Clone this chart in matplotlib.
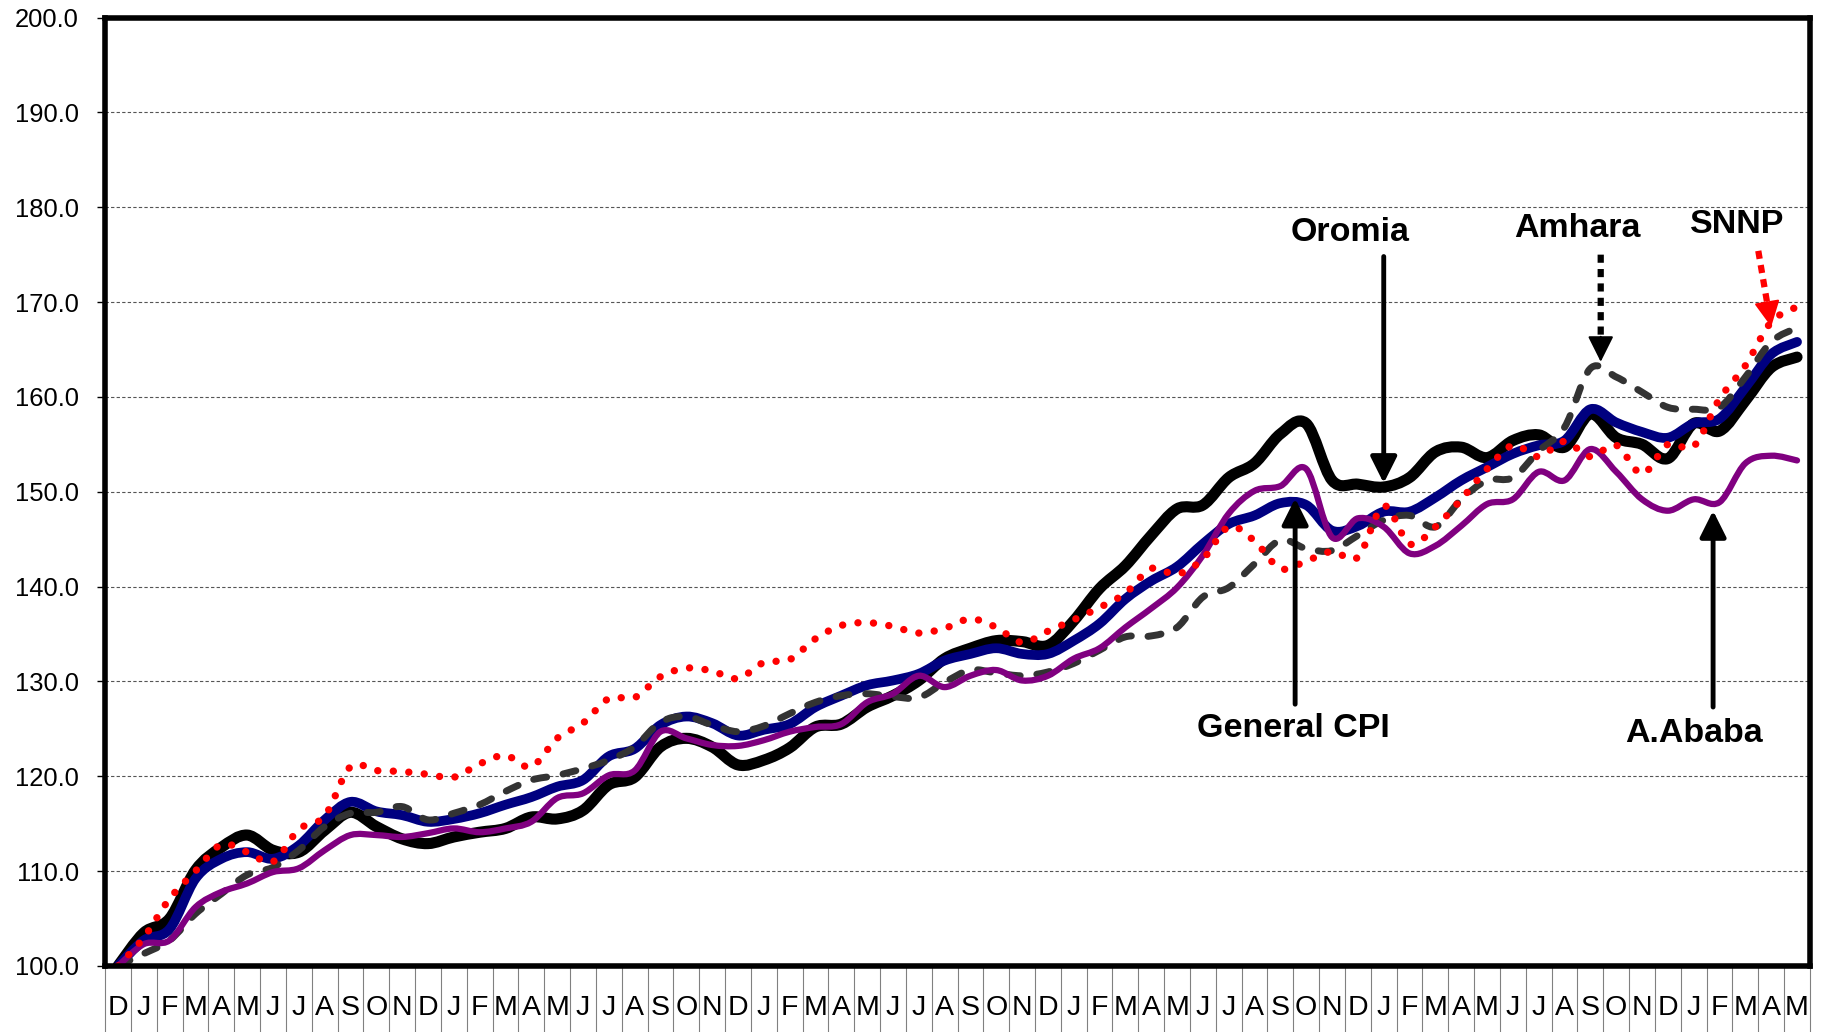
import numpy as np
import matplotlib
matplotlib.use("Agg")
import matplotlib.pyplot as plt
from matplotlib.path import Path
from matplotlib.patches import PathPatch

plt.rcParams['font.family'] = ['Liberation Sans', 'DejaVu Sans']

# month labels, Dec of base year to May five and a half years later
months = ["D"] + ["J", "F", "M", "A", "M", "J", "J", "A", "S", "O", "N", "D"] * 5 + ["J", "F", "M", "A", "M"]

oromia = [100.0, 103.5, 105.0, 110.1, 112.5, 113.8, 112.2, 112.0, 114.3, 116.2, 114.7, 113.4, 112.9,
          113.6, 114.1, 114.5, 115.7, 115.5, 116.4, 119.1, 119.9, 123.1, 124.0, 123.1, 121.2, 121.7,
          123.0, 125.2, 125.5, 127.3, 128.5, 130.1, 132.4, 133.5, 134.3, 134.2, 133.8, 136.4, 139.8,
          142.2, 145.4, 148.2, 148.6, 151.5, 153.0, 156.1, 157.2, 151.2, 150.8, 150.5, 151.5, 154.2,
          154.7, 153.6, 155.4, 156.0, 154.7, 158.2, 155.7, 155.0, 153.5, 157.2, 156.4, 159.6, 163.1, 164.2]

general_cpi = [100.0, 102.7, 103.9, 109.2, 111.3, 112.0, 111.3, 112.7, 115.4, 117.3, 116.3, 115.9, 115.2,
               115.5, 116.1, 117.0, 117.8, 118.9, 119.6, 122.1, 122.9, 125.4, 126.3, 125.6, 124.3, 124.9,
               125.5, 127.3, 128.5, 129.6, 130.1, 130.8, 132.2, 132.9, 133.5, 132.9, 132.9, 134.3, 136.1,
               138.7, 140.6, 142.1, 144.5, 146.6, 147.5, 148.8, 148.6, 145.9, 146.4, 147.9, 147.9, 149.4,
               151.2, 152.6, 154.0, 154.9, 155.4, 158.7, 157.3, 156.3, 155.7, 157.2, 157.7, 161.0, 164.5, 165.8]

amhara = [100.0, 101.3, 102.7, 105.5, 107.6, 109.6, 110.4, 112.2, 114.7, 116.1, 116.2, 116.8, 115.4,
          116.1, 117.0, 118.4, 119.6, 120.1, 120.8, 121.7, 123.1, 125.7, 126.3, 125.4, 124.7, 125.3,
          126.6, 127.8, 128.5, 128.7, 128.4, 128.3, 129.9, 131.2, 130.9, 130.6, 131.0, 131.9, 133.3,
          134.7, 134.8, 135.7, 138.9, 139.9, 142.4, 144.9, 144.0, 143.8, 145.4, 147.0, 147.5, 146.3,
          149.2, 151.2, 151.5, 154.3, 156.8, 163.0, 162.1, 160.5, 158.9, 158.7, 158.9, 162.1, 165.8, 167.3]

snnp = [100.0, 103.0, 107.1, 110.0, 112.8, 112.0, 111.0, 114.4, 115.8, 121.0, 120.6, 120.5, 120.2,
        119.9, 121.3, 122.2, 121.0, 124.0, 125.6, 128.2, 128.3, 130.5, 131.4, 131.1, 130.3, 132.0,
        132.3, 134.5, 135.9, 136.2, 135.8, 135.1, 135.6, 136.6, 135.7, 134.1, 135.3, 136.5, 137.8,
        139.3, 141.9, 141.3, 142.9, 146.3, 144.8, 141.9, 142.7, 143.7, 143.1, 148.5, 144.5, 146.3,
        149.2, 152.4, 154.9, 153.7, 155.3, 153.7, 154.9, 151.9, 155.0, 154.8, 159.8, 163.3, 167.9, 169.5]

a_ababa = [100.0, 102.3, 102.7, 106.2, 107.8, 108.7, 109.9, 110.3, 112.2, 113.8, 113.8, 113.6, 114.0,
           114.5, 114.1, 114.5, 115.2, 117.7, 118.2, 120.1, 120.6, 124.7, 124.0, 123.3, 123.2, 123.8,
           124.7, 125.2, 125.5, 127.8, 128.7, 130.6, 129.4, 130.6, 131.2, 130.1, 130.6, 132.4, 133.5,
           135.7, 137.7, 139.9, 143.3, 147.7, 150.1, 150.6, 152.4, 145.2, 147.2, 146.3, 143.5, 144.3,
           146.4, 148.7, 149.2, 152.1, 151.2, 154.5, 152.1, 149.2, 148.0, 149.2, 148.9, 153.0, 153.8, 153.3]


def smooth_path(ys):
    # smoothed line like excel: one bezier segment between each pair of points
    xs = np.arange(len(ys))
    n = len(ys)
    verts = [(xs[0], ys[0])]
    codes = [Path.MOVETO]
    for i in range(n - 1):
        a = max(i - 1, 0)
        d = min(i + 2, n - 1)
        c1 = (xs[i] + (xs[i + 1] - xs[a]) / 6, ys[i] + (ys[i + 1] - ys[a]) / 6)
        c2 = (xs[i + 1] - (xs[d] - xs[i]) / 6, ys[i + 1] - (ys[d] - ys[i]) / 6)
        verts += [c1, c2, (xs[i + 1], ys[i + 1])]
        codes += [Path.CURVE4] * 3
    return Path(verts, codes)


fig = plt.figure(figsize=(18.24, 10.32), dpi=100)
ax = fig.add_axes([0.0576, 0.064, 0.9347, 0.919])

# series: data, colour, width, dash pattern
series = [
    (oromia, "black", 8.0, "-"),
    (general_cpi, "#000080", 7.0, "-"),
    (amhara, "#333333", 5.0, (0, (1.9, 2.4))),
    (a_ababa, "#800080", 4.5, "-"),
    (snnp, "#ff0000", 5.3, (0, (0.01, 2.1))),
]
for k, (vals, col, lw, ls) in enumerate(series):
    p = PathPatch(smooth_path(vals), fill=False, edgecolor=col, lw=lw, linestyle=ls,
                  capstyle="round", joinstyle="round", zorder=3 + k)
    ax.add_patch(p)

ax.set_xlim(-0.5, len(months) - 0.5)
ax.set_ylim(100, 200)

ax.set_xticks(np.arange(-0.5, len(months)))
ax.set_xticklabels([])
ax.set_xticks(np.arange(len(months)), labels=months, minor=True)
ax.tick_params(axis="x", which="major", length=48, width=0.8, color="#808080", direction="out")
ax.tick_params(axis="x", which="minor", length=0, pad=21, labelsize=20.5)

ax.set_yticks(np.arange(100, 201, 10))
ax.set_yticklabels(["%.1f" % v for v in np.arange(100, 201, 10)])
ax.tick_params(axis="y", length=6, width=1, pad=13, labelsize=18.4)

ax.yaxis.grid(True, linestyle=(0, (3, 2)), color="#555555", lw=0.8)
ax.set_axisbelow(True)
for s in ax.spines.values():
    s.set_linewidth(4)
    s.set_zorder(10)

# labels and arrows
labels = [("Oromia", 47.7, 177.3), ("Amhara", 56.5, 177.8), ("SNNP", 62.7, 178.2),
          ("General CPI", 45.5, 125.0), ("A.Ababa", 61.0, 124.5)]
for txt, x, y in labels:
    ax.text(x, y, txt, fontsize=24.5, fontweight="bold",
            ha="center", va="center", zorder=12)

head = "-|>,head_length=1.6,head_width=0.8"
solid_arrows = [((49.0, 174.8), (49.0, 150.9)),
                ((45.57, 127.6), (45.57, 149.3)),
                ((61.75, 127.3), (61.75, 148.0))]
for tail, tip in solid_arrows:
    ax.annotate("", xy=tip, xytext=tail, zorder=12,
                arrowprops=dict(arrowstyle=head, lw=3.5, color="black", mutation_scale=10,
                                shrinkA=0, shrinkB=0))

dotted_arrows = [((57.4, 175.0), (57.4, 163.7), "black"),
                 ((63.5, 175.4), (64.0, 167.4), "#ff0000")]
for tail, tip, col in dotted_arrows:
    t0 = ax.transData.transform(tail)
    t1 = ax.transData.transform(tip)
    frac = 25.0 / np.hypot(*(t1 - t0))
    base = ax.transData.inverted().transform(t1 - (t1 - t0) * frac)
    ax.annotate("", xy=base, xytext=tail, zorder=12,
                arrowprops=dict(arrowstyle="-", lw=4.5, color=col, linestyle=(0, (1.3, 1.0)),
                                capstyle="butt", shrinkA=0, shrinkB=0))
    ax.annotate("", xy=tip, xytext=base, zorder=12,
                arrowprops=dict(arrowstyle=head, lw=1.5, color=col, mutation_scale=10,
                                shrinkA=0, shrinkB=0))

fig.savefig("out.png", dpi=100)
